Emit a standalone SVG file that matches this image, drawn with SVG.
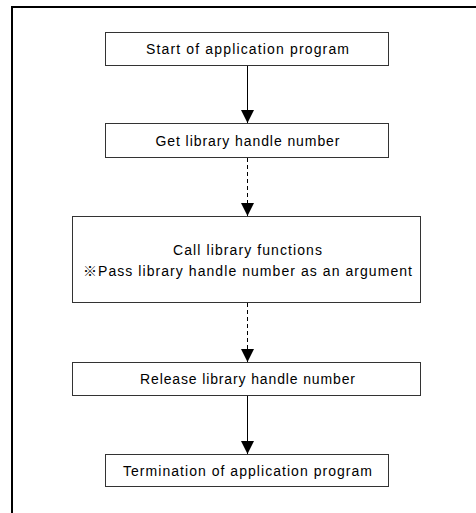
<svg xmlns="http://www.w3.org/2000/svg" width="476" height="513" viewBox="0 0 476 513">
<style>
.box{fill:#fff;stroke:#333;stroke-width:1}
.t{font-family:"Liberation Sans",Arial,"Noto Sans CJK JP",sans-serif;font-size:14px;fill:#000;text-anchor:middle}
.ln{stroke:#000;stroke-width:1;fill:none}
.dash{stroke-dasharray:4 3}
</style>
<defs>
<marker id="ah" markerWidth="14" markerHeight="13" refX="14" refY="7" orient="auto" markerUnits="userSpaceOnUse" viewBox="0 0 14 14">
<path d="M0,0 L14,7 L0,14 Z" fill="#000"/>
</marker>
</defs>
<rect x="12" y="7" width="480" height="520" fill="#fff" stroke="#000" stroke-width="2"/>
<g id="connectors">
<line class="ln" x1="247.5" y1="66" x2="247.5" y2="123" marker-end="url(#ah)"/>
<line class="ln dash" x1="247.5" y1="158" x2="247.5" y2="216" marker-end="url(#ah)"/>
<line class="ln dash" x1="247.5" y1="303" x2="247.5" y2="362" marker-end="url(#ah)"/>
<line class="ln" x1="247.5" y1="396" x2="247.5" y2="454" marker-end="url(#ah)"/>
</g>
<g id="start">
<rect class="box" x="105.5" y="32.5" width="283" height="33"/>
<text class="t" x="247.5" y="54" textLength="203" lengthAdjust="spacing">Start of application program</text>
</g>
<g id="get">
<rect class="box" x="105.5" y="123.5" width="283" height="34"/>
<text class="t" x="247.5" y="145.5" textLength="184" lengthAdjust="spacing">Get library handle number</text>
</g>
<g id="call">
<rect class="box" x="72.5" y="216.5" width="348" height="86"/>
<text class="t" x="247.5" y="255" textLength="149" lengthAdjust="spacing">Call library functions</text>
<text class="t" x="247.5" y="276" textLength="329" lengthAdjust="spacing">※Pass library handle number as an argument</text>
</g>
<g id="release">
<rect class="box" x="72.5" y="362.5" width="348" height="33"/>
<text class="t" x="247.5" y="384" textLength="215" lengthAdjust="spacing">Release library handle number</text>
</g>
<g id="termination">
<rect class="box" x="105.5" y="454.5" width="283" height="32"/>
<text class="t" x="247.5" y="475.5" textLength="249" lengthAdjust="spacing">Termination of application program</text>
</g>
</svg>
